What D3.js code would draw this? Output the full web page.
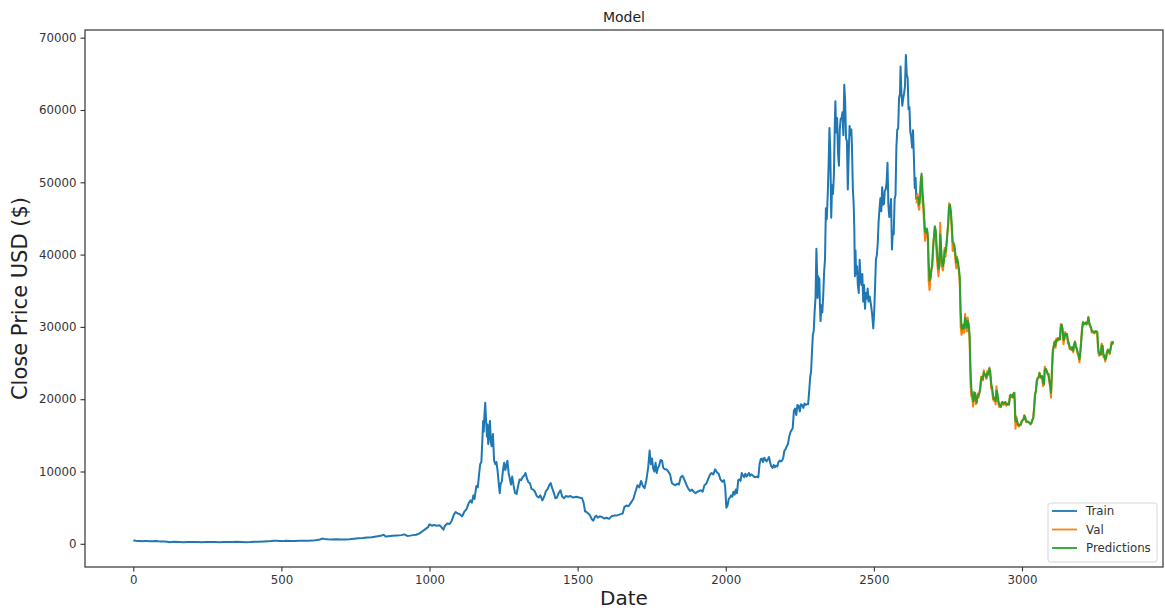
<!DOCTYPE html>
<html>
<head>
<meta charset="utf-8">
<script src="https://cdn.jsdelivr.net/npm/d3@7"></script>
<style>
  body { margin: 0; background: #fff; }
  svg { display: block; font-family: "DejaVu Sans", sans-serif; }
</style>
</head>
<body>
<svg id="chart" width="1165" height="611"></svg>
<script>
"use strict";

// 학습 구간 종가 [day, close]
const trainData = [
  [0,457],[8,420],[15,400],[22,390],[30,345],[38,380],[46,370],[55,360],[65,365],[75,380],[85,350],[95,330],
  [105,310],[115,280],[122,220],[128,260],[140,270],[155,245],[170,220],[185,255],[200,235],[215,240],[230,225],
  [245,245],[260,235],[275,240],[290,225],[305,235],[320,255],[335,265],[350,280],[365,260],[380,230],[395,240],
  [410,270],[425,290],[440,320],[455,360],[465,380],[475,430],[485,410],[495,380],[505,370],[515,420],[530,380],
  [545,380],[560,410],[575,430],[590,420],[605,440],[620,520],[630,600],[638,720],[645,680],[655,640],[670,600],
  [685,620],[700,590],[715,600],[730,640],[745,700],[760,760],[775,790],[790,860],[805,900],[820,1000],[835,1100],
  [845,1250],[852,1000],[862,1050],[875,1100],[890,1150],[905,1200],[915,1300],[925,1080],[935,1130],[945,1200],
  [955,1250],[965,1400],[975,1700],[985,2000],[995,2300],[1000,2700],[1008,2500],[1015,2600],[1025,2500],
  [1035,2550],[1042,2200],[1047,1950],[1052,2500],[1060,2800],[1068,2750],[1075,3200],[1082,4000],[1088,4400],
  [1095,4200],[1102,4100],[1110,3800],[1117,4400],[1125,4800],[1132,5600],[1138,6000],[1143,5700],[1148,6700],
  [1152,6200],[1158,8000],[1163,7800],[1167,9500],[1171,11000],[1175,11300],[1178,14000],[1181,17000],
  [1183,15500],[1185,17500],[1188,19500],[1191,17000],[1194,14800],[1196,16500],[1198,13800],[1201,15000],
  [1204,17000],[1207,14000],[1210,13500],[1214,15200],[1218,11500],[1222,11000],[1226,11300],[1230,10000],
  [1234,8200],[1237,7000],[1240,8300],[1244,8600],[1248,10200],[1252,11200],[1256,10200],[1260,11000],
  [1263,11500],[1267,9800],[1271,9000],[1275,8200],[1279,9300],[1284,8000],[1289,7000],[1294,6900],[1299,8000],
  [1304,8900],[1309,8800],[1314,9200],[1319,9400],[1324,9800],[1329,9000],[1334,8500],[1339,8400],[1344,7600],
  [1350,7500],[1356,7200],[1362,6600],[1368,6400],[1374,6700],[1381,6000],[1387,6500],[1393,7300],[1399,7600],
  [1405,8200],[1409,8400],[1414,7700],[1420,7000],[1425,6300],[1430,6400],[1436,7000],[1442,7400],[1448,6500],
  [1454,6300],[1460,6600],[1468,6500],[1476,6600],[1485,6400],[1495,6500],[1505,6400],[1515,6300],[1520,5700],
  [1525,4500],[1530,4400],[1536,4200],[1542,3900],[1548,3400],[1553,3200],[1558,3700],[1563,3900],[1568,3600],
  [1575,3800],[1582,3700],[1590,3500],[1598,3600],[1606,3450],[1614,3800],[1622,3900],[1630,3900],[1638,4000],
  [1645,4100],[1652,4200],[1658,5100],[1665,5300],[1672,5200],[1680,5700],[1688,6200],[1695,7200],[1702,8100],
  [1708,7800],[1714,8700],[1720,8000],[1726,7700],[1732,8800],[1738,10500],[1743,12900],[1747,11000],
  [1751,11800],[1755,10400],[1759,10000],[1763,11200],[1767,9800],[1771,10500],[1775,10800],[1780,11600],
  [1785,11500],[1789,10500],[1794,10300],[1800,10300],[1806,10000],[1812,9600],[1818,8400],[1824,8200],
  [1830,8100],[1836,8300],[1842,8200],[1848,9200],[1854,9400],[1858,9100],[1863,8600],[1868,8100],[1874,7600],
  [1880,7300],[1886,7500],[1892,7200],[1898,7000],[1904,7200],[1910,7300],[1916,7400],[1922,7200],[1928,8100],
  [1934,8300],[1940,8900],[1946,9500],[1952,9800],[1958,9600],[1964,10300],[1970,9900],[1976,9700],[1982,8900],
  [1988,8600],[1994,8800],[1998,7900],[2002,5000],[2006,5300],[2010,6200],[2014,6400],[2018,6700],[2022,6500],
  [2026,7200],[2030,6800],[2034,7500],[2038,7000],[2042,8800],[2046,8900],[2050,8700],[2054,9800],[2058,9500],
  [2062,9200],[2066,9700],[2070,9300],[2074,9500],[2078,9800],[2082,9400],[2086,9600],[2090,9500],[2095,9300],
  [2100,9200],[2105,9300],[2110,9200],[2114,11000],[2118,11700],[2122,11800],[2126,11300],[2130,11900],
  [2134,11600],[2138,11400],[2142,11700],[2146,12000],[2150,11200],[2154,10700],[2158,10500],[2162,10900],
  [2166,10600],[2170,10800],[2174,10700],[2178,11300],[2182,11500],[2186,11400],[2190,11500],[2194,11900],
  [2198,12900],[2202,13100],[2206,13500],[2210,13800],[2214,14800],[2218,15400],[2222,15700],[2226,16000],
  [2230,18400],[2234,18700],[2238,17800],[2242,19200],[2246,19100],[2250,18300],[2254,19300],[2258,19200],
  [2262,18800],[2266,19400],[2270,19200],[2274,19300],[2278,19300],[2282,21300],[2285,23100],[2288,23800],
  [2291,26500],[2294,28900],[2297,29400],[2300,32100],[2303,34000],[2306,40800],[2308,38000],[2310,34000],
  [2312,37000],[2314,35000],[2316,36700],[2318,33000],[2320,30800],[2323,33000],[2326,32000],[2329,34300],
  [2332,37600],[2335,39300],[2338,46400],[2341,44900],[2344,48000],[2347,52100],[2350,57500],[2353,54100],
  [2356,45100],[2359,49600],[2362,48400],[2365,50900],[2368,57800],[2370,61200],[2373,56900],[2376,58900],
  [2379,54100],[2382,52300],[2385,57400],[2388,58800],[2391,58900],[2394,59700],[2397,56500],[2400,63500],
  [2403,61300],[2406,56100],[2409,55700],[2412,49000],[2415,53800],[2418,57800],[2421,56500],[2424,57300],
  [2426,55000],[2429,49200],[2432,46800],[2434,43500],[2436,37000],[2438,40600],[2440,37300],[2443,38400],
  [2446,35700],[2449,34700],[2452,39300],[2455,36700],[2458,35800],[2461,37300],[2464,33500],[2467,35800],
  [2470,32500],[2473,34700],[2476,33900],[2479,35300],[2482,33500],[2486,34200],[2490,33100],[2494,31800],
  [2498,29800],[2501,32100],[2504,35400],[2507,39400],[2510,39900],[2513,41500],[2516,44600],[2519,46300],
  [2522,47800],[2525,46000],[2528,49300],[2531,46900],[2534,47000],[2537,48900],[2540,49000],[2543,50000],
  [2546,52700],[2549,46800],[2552,45200],[2555,46100],[2558,47700],[2561,40700],[2564,43200],[2567,42800],
  [2570,47700],[2573,48200],[2576,54900],[2579,57300],[2582,57400],[2585,61700],[2588,62200],[2590,66000],
  [2593,62300],[2596,60600],[2599,61600],[2602,62300],[2605,63300],[2608,67600],[2611,64900],[2614,64400],
  [2617,60100],[2620,60400],[2623,56900],[2626,56300],[2629,54800],[2632,57200],[2635,53600],[2638,49200],
  [2641,50600],[2643,47600]
];

// 검증 구간 날짜, 실제 종가, 모델 예측값
const valDays = [
  2644,2647,2650,2653,2656,2659,2661,2664,2667,2670,2673,2676,2679,2682,2685,2688,2691,2694,2697,2700,
  2703,2706,2709,2712,2715,2718,2721,2724,2727,2730,2733,2736,2739,2742,2745,2748,2751,2754,2757,2760,
  2763,2766,2769,2772,2775,2778,2781,2784,2787,2790,2793,2796,2799,2802,2805,2808,2811,2814,2817,2820,
  2823,2826,2829,2832,2835,2838,2841,2844,2847,2850,2853,2856,2859,2862,2865,2868,2871,2874,2877,2880,
  2883,2886,2890,2893,2896,2899,2902,2905,2908,2911,2914,2917,2920,2923,2926,2929,2932,2935,2938,2941,
  2944,2947,2950,2953,2956,2959,2962,2965,2968,2971,2974,2976,2978,2981,2984,2987,2990,2993,2996,2999,
  3002,3005,3008,3011,3014,3017,3020,3023,3026,3029,3032,3035,3038,3041,3044,3047,3050,3053,3056,3059,
  3062,3065,3068,3071,3074,3077,3080,3083,3086,3089,3092,3095,3098,3101,3104,3107,3110,3113,3116,3119,
  3122,3125,3128,3131,3134,3137,3140,3143,3146,3149,3152,3155,3158,3161,3164,3167,3170,3173,3176,3179,
  3182,3185,3188,3191,3194,3197,3200,3203,3206,3209,3212,3215,3218,3221,3224,3227,3230,3233,3236,3239,
  3242,3245,3248,3251,3254,3257,3260,3263,3266,3269,3272,3275,3278,3281,3284,3287,3290,3293,3296,3299,
  3302,3305,3308
];
const valClose = [
  47100,48400,46700,46200,48900,50800,50600,47200,46500,43600,41900,43100,43100,42200,36300,35100,36800,37800,38400,41600,
  42400,43900,42200,40000,38300,37000,38400,44400,39400,38300,37800,39000,40900,39700,41500,42900,44500,47100,46300,45500,
  43200,40500,41500,40800,39400,38100,39700,38500,37700,36000,30000,28900,29500,30300,29200,31800,30200,29400,31300,29900,
  28400,22500,20400,20300,19000,21000,20700,19300,19400,20800,20200,20800,21600,23100,23000,22600,24000,23300,23200,22800,
  23900,23300,24400,23300,21500,21400,20000,19800,20200,19300,21800,20200,19500,18900,19000,18900,19600,19500,19200,19400,
  19600,19100,19200,19400,19200,20500,20600,20300,20200,20800,20900,18500,15900,17600,16600,16300,16200,16500,16400,17000,
  17100,17200,17800,17400,16800,16900,16800,16800,16600,16500,16700,17200,17400,19000,20900,21100,22700,22900,23000,23700,
  23000,22900,23200,21800,22000,24500,24100,23900,23400,23500,22400,21700,20200,24200,26900,27400,28000,27100,28400,28000,
  28500,28200,28300,30400,30300,29400,27600,28300,29300,28800,29000,27700,27600,26900,27000,26800,27200,26500,27700,28000,
  27200,26800,26300,25900,25100,26700,28300,30000,30700,30300,30500,30600,30300,30600,31400,30300,30100,29800,29200,29400,
  29200,29100,29400,29400,29200,26600,26000,26100,26100,27700,27300,25800,25900,25200,25800,26600,26900,26600,26200,27000,
  27900,27600,28000
];
const predClose = [
  47900,47800,47900,46900,47900,50300,51200,48900,47200,45100,43200,43000,43600,42900,38900,36400,36700,37900,38700,40700,
  42600,43900,43300,41200,39400,38000,38400,42800,41000,39100,38400,39000,40600,40300,41300,42800,44300,46700,46900,46000,
  44100,41800,41600,41200,40200,38900,39400,38900,38100,36800,32100,29900,29700,30300,29800,31300,30800,29900,30800,30400,
  29000,24400,21500,20600,19700,20600,20900,19900,19600,20500,20500,20800,21400,22700,23100,22800,23700,23500,23300,23000,
  23600,23500,24200,23800,22200,21600,20600,20000,20200,19700,21200,20800,19900,19300,19100,19000,19500,19600,19400,19500,
  19600,19300,19300,19400,19300,20200,20600,20400,20300,20700,20900,19400,17000,17300,16900,16500,16400,16500,16500,16900,
  17100,17200,17700,17500,17000,16900,16900,16800,16700,16600,16700,17100,17400,18700,20500,21100,22400,22900,23000,23600,
  23200,23000,23200,22200,22100,24100,24200,24000,23600,23500,22700,22000,20900,23600,26400,27300,27900,27400,28200,28100,
  28400,28300,28300,30000,30300,29700,28200,28300,29100,28900,29000,28100,27800,27200,27100,26900,27200,26700,27500,27900,
  27400,27000,26500,26100,25500,26500,28000,29700,30600,30400,30500,30600,30400,30600,31300,30600,30200,29900,29400,29400,
  29300,29200,29400,29400,29300,27200,26400,26200,26200,27400,27400,26200,26000,25500,25800,26500,26800,26700,26400,26900,
  27700,27700,28000
];

const xTicks = [0, 500, 1000, 1500, 2000, 2500, 3000];
const yTicks = [0, 10000, 20000, 30000, 40000, 50000, 60000, 70000];
const seriesNames = ["Train", "Val", "Predictions"];
const seriesColors = ["#1f77b4", "#ff7f0e", "#2ca02c"];

const svg = d3.select("#chart");
const plotLeft = 85, plotRight = 1163, plotTop = 30, plotBottom = 567;

// 매핑함수 (matplotlib 자동 여백 5% 감안해서 도메인 잡음)
const xScale = d3.scaleLinear().domain([-163, 3476]).range([plotLeft, plotRight]);
const yScale = d3.scaleLinear().domain([-3209, 71065]).range([plotBottom, plotTop]);

const line = d3.line()
  .x((d) => xScale(d[0]))
  .y((d) => yScale(d[1]));

const valData = valDays.map((d, i) => [d, valClose[i]]);
const predData = valDays.map((d, i) => [d, predClose[i]]);

const plot = svg.append("g");
[trainData, valData, predData].forEach((data, i) => {
  plot.append("path")
    .attr("d", line(data))
    .attr("fill", "none")
    .attr("stroke", seriesColors[i])
    .attr("stroke-width", 2)
    .attr("stroke-linejoin", "round");
});

// 축
const xAxis = d3.axisBottom(xScale).tickValues(xTicks).tickSize(4.5).tickPadding(4).tickFormat(d3.format("d"));
const yAxis = d3.axisLeft(yScale).tickValues(yTicks).tickSize(4.5).tickPadding(4).tickFormat(d3.format("d"));

const gx = svg.append("g").attr("transform", `translate(0,${plotBottom})`).call(xAxis);
const gy = svg.append("g").attr("transform", `translate(${plotLeft},0)`).call(yAxis);
[gx, gy].forEach((g) => {
  g.select(".domain").remove();
  g.selectAll("line").attr("stroke", "#333").attr("stroke-width", 1.1);
  g.selectAll("text").attr("fill", "#333").style("font-size", "11.8px").style("font-family", "DejaVu Sans");
});

// 테두리
svg.append("rect")
  .attr("x", plotLeft).attr("y", plotTop)
  .attr("width", plotRight - plotLeft).attr("height", plotBottom - plotTop)
  .attr("fill", "none").attr("stroke", "#333").attr("stroke-width", 1.2);

// 제목, 축 라벨
svg.append("text").attr("x", (plotLeft + plotRight) / 2).attr("y", 22)
  .attr("text-anchor", "middle").style("font-size", "14px").attr("fill", "#222").text("Model");
svg.append("text").attr("x", (plotLeft + plotRight) / 2).attr("y", 605)
  .attr("text-anchor", "middle").style("font-size", "20px").attr("fill", "#222").text("Date");
svg.append("text")
  .attr("transform", `translate(27,${(plotTop + plotBottom) / 2}) rotate(-90)`)
  .attr("text-anchor", "middle").style("font-size", "21px").attr("fill", "#222").text("Close Price USD ($)");

// 범례
const legend = svg.append("g");
legend.append("rect")
  .attr("x", 1048).attr("y", 503).attr("width", 109).attr("height", 59)
  .attr("rx", 2.5).attr("fill", "#fff").attr("fill-opacity", 0.8)
  .attr("stroke", "#d6d6d6").attr("stroke-width", 1);
seriesNames.forEach((name, i) => {
  const y = 511 + i * 18.5;
  legend.append("line")
    .attr("x1", 1052).attr("x2", 1077).attr("y1", y).attr("y2", y)
    .attr("stroke", seriesColors[i]).attr("stroke-width", 1.8);
  legend.append("text")
    .attr("x", 1086).attr("y", y + 4.2)
    .style("font-size", "11.8px").attr("fill", "#333").text(name);
});
</script>
</body>
</html>
